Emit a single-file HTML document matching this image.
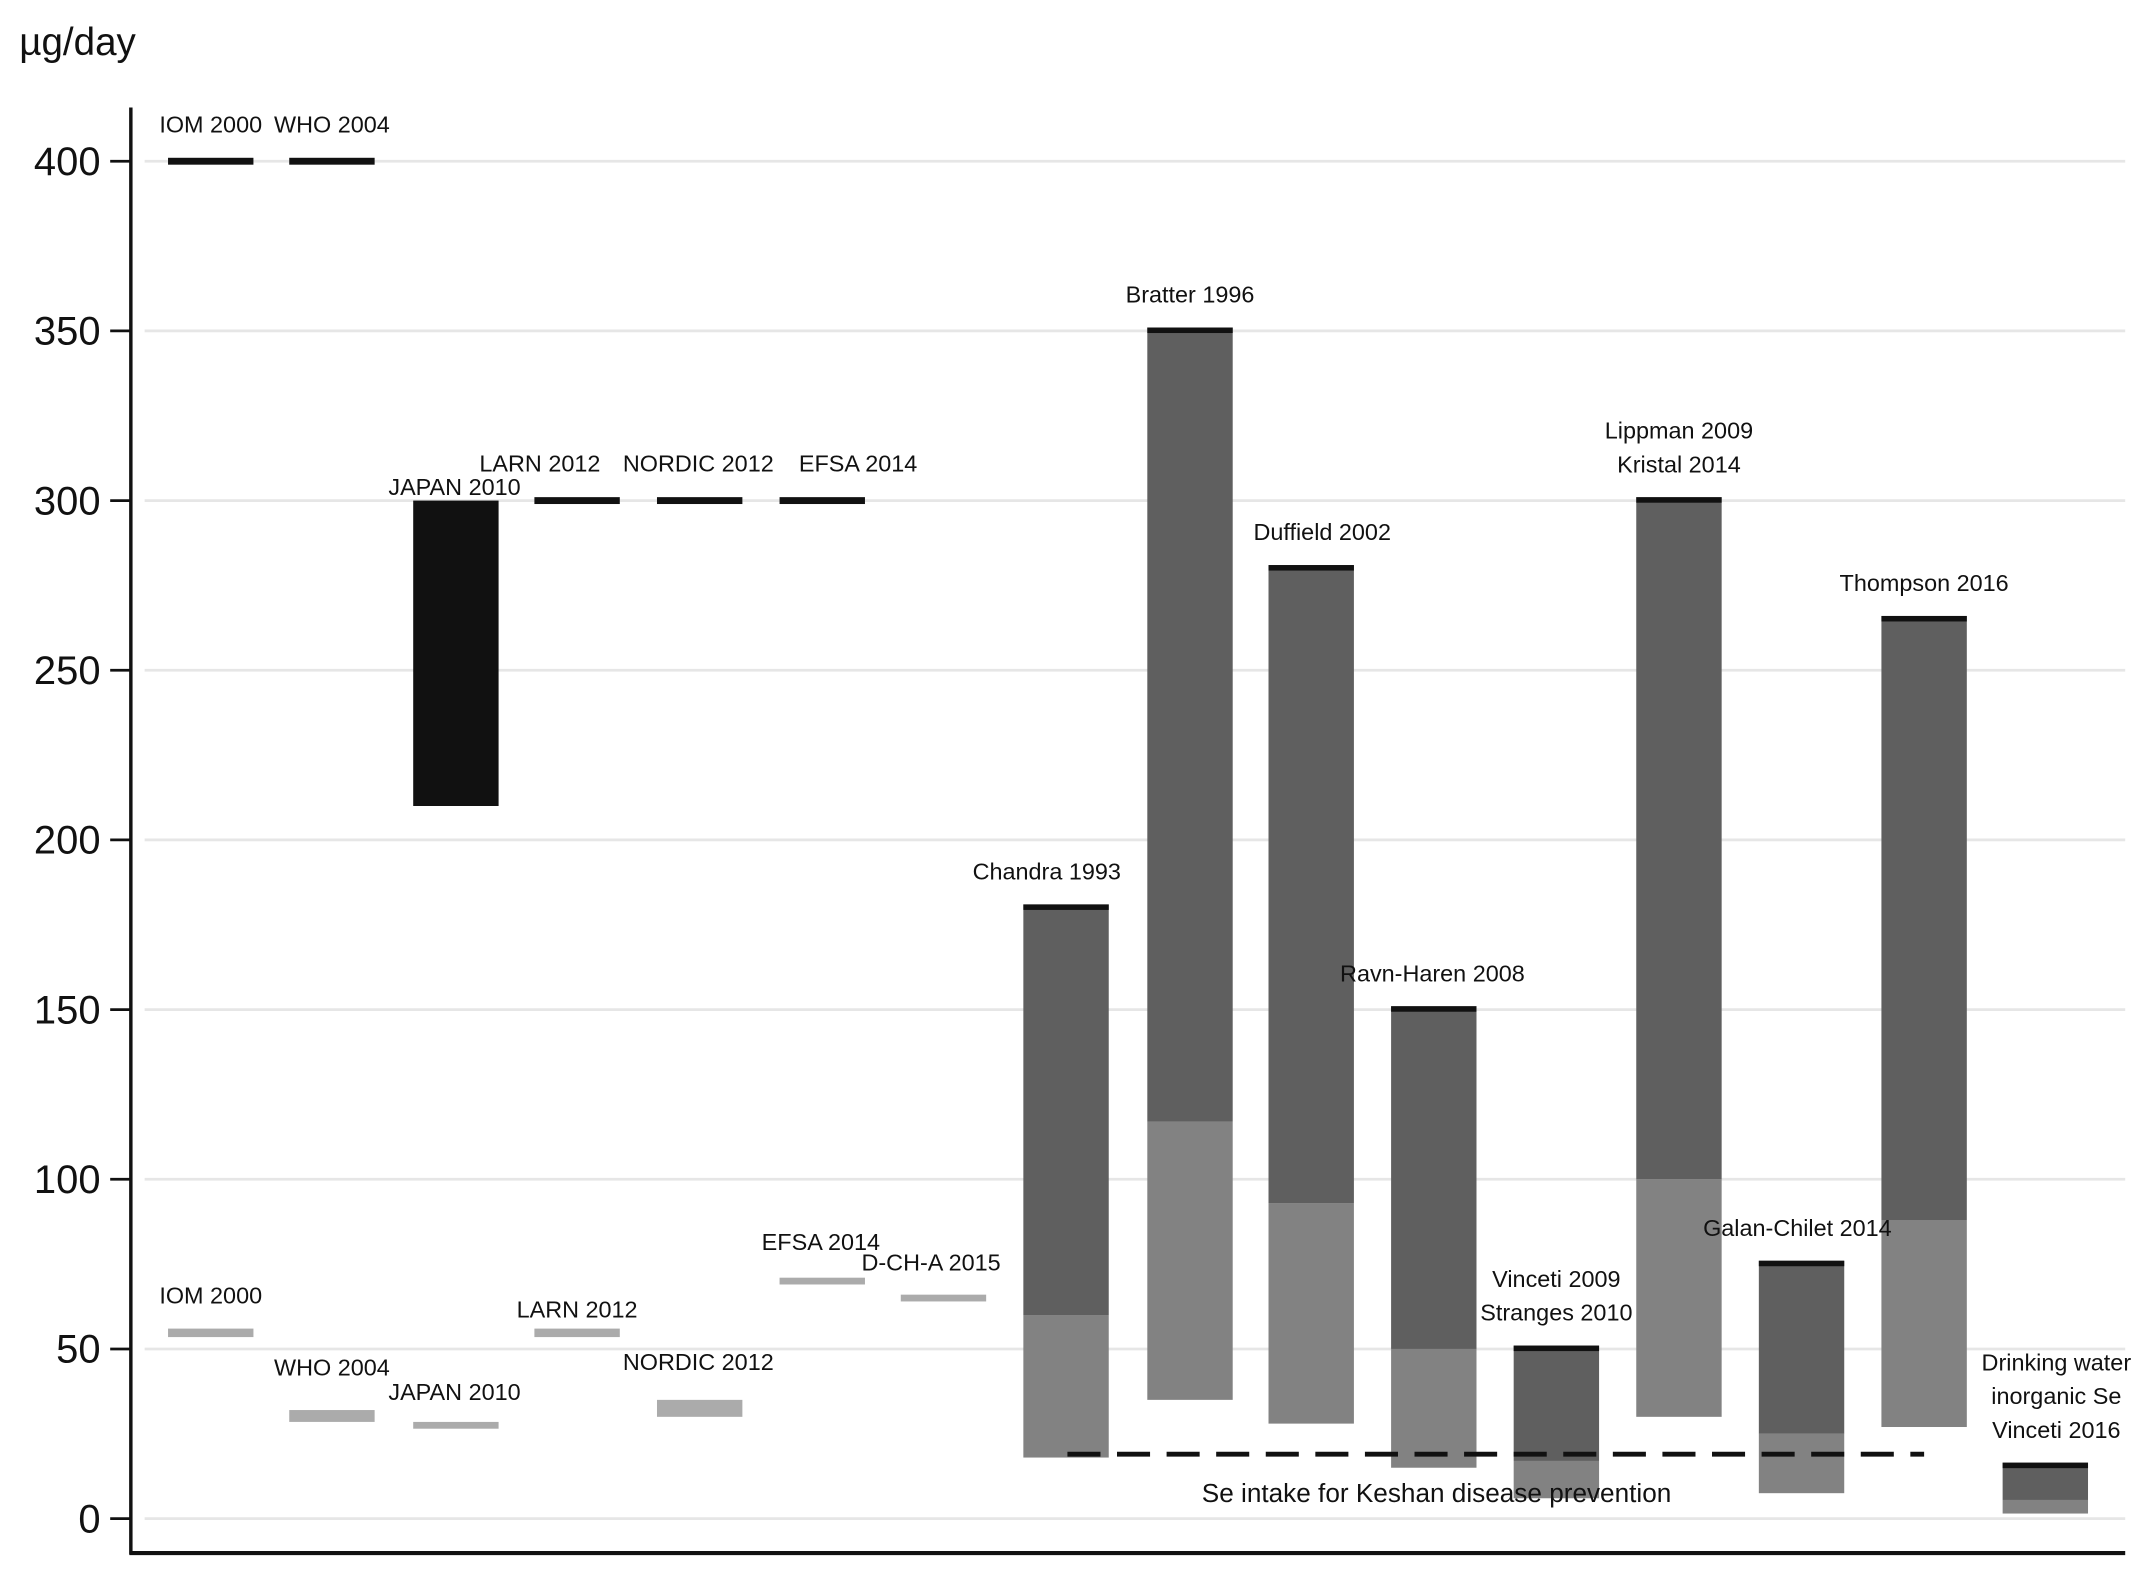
<!DOCTYPE html>
<html><head><meta charset="utf-8"><style>
html,body{margin:0;padding:0;background:#fff}
svg{display:block}
text{font-family:"Liberation Sans",sans-serif;fill:#111}
</style></head><body>
<svg id="chart" width="2150" height="1571" viewBox="0 0 1561 1140" preserveAspectRatio="none" xmlns="http://www.w3.org/2000/svg">
<g id="grid"></g>
<g id="marks"></g>
<g id="labels"></g>
<g id="axes"></g>
</svg>
<script>
const yTicks=[0,50,100,150,200,250,300,350,400];
const refNames=["IOM 2000","WHO 2004","LARN 2012","NORDIC 2012","EFSA 2014"];
const refValues=[400,400,300,300,300];
const refX=[122,210,388,477,566];
const japanRange=[210,300];
const lowNames=["IOM 2000","WHO 2004","JAPAN 2010","LARN 2012","NORDIC 2012","EFSA 2014","D-CH-A 2015"];
const lowLo=[53.5,28.5,26.5,53.5,30,69,64];
const lowHi=[56,32,28.5,56,35,71,66];
const lowX=[122,210,300,388,477,566,654];
const studyNames=[["Chandra 1993"],["Bratter 1996"],["Duffield 2002"],["Ravn-Haren 2008"],["Vinceti 2009","Stranges 2010"],["Lippman 2009","Kristal 2014"],["Galan-Chilet 2014"],["Thompson 2016"],["Drinking water","inorganic Se","Vinceti 2016"]];
const studyLow=[18,35,28,15,6,30,7.5,27,1.5];
const studyMid=[60,117,93,50,17,100,25,88,5.5];
const studyHigh=[181,351,281,151,51,301,76,266,16.5];
const studyX=[743,833,921,1010,1099,1188,1277,1366,1454];
const keshanValue=19;

const NS="http://www.w3.org/2000/svg";
const Y0=1102, PER=(1102-117)/400, BW=62;
const y=v=>Y0-v*PER;
function el(tag,attrs,parent,txt){const e=document.createElementNS(NS,tag);for(const k in attrs)e.setAttribute(k,attrs[k]);if(txt!=null)e.textContent=txt;parent.appendChild(e);return e;}
const grid=document.getElementById('grid'),marks=document.getElementById('marks'),labels=document.getElementById('labels'),axes=document.getElementById('axes');

yTicks.forEach(t=>{
  const g=el('line',{x1:105,x2:1543,y1:y(t),y2:y(t),stroke:'#e6e6e6','stroke-width':2},grid);
  
  
  const tk=el('line',{x1:80,x2:95,y1:y(t),y2:y(t),stroke:'#111','stroke-width':2},axes);
  
  
  const tl=el('text',{x:73,y:y(t)+10,'text-anchor':'end','font-size':29},axes,String(t));
  
  
});
const ya=el('line',{x1:95,x2:95,y1:78,y2:1128,stroke:'#111','stroke-width':2.5},axes);


const xa=el('line',{x1:94,x2:1543,y1:1127,y2:1127,stroke:'#111','stroke-width':3},axes);


const yt=el('text',{x:14,y:40,'font-size':28},axes,'µg/day');



refNames.forEach((n,i)=>{
  const r=el('rect',{x:refX[i],y:y(refValues[i])-2.5,width:BW,height:5,fill:'#111'},marks);
  
  
  const cx=i<2?refX[i]+31:(i===2?refX[i]+4:(i===3?refX[i]+30:refX[i]+57));
  const t=el('text',{x:cx,y:y(refValues[i])-21,'text-anchor':'middle','font-size':17},labels,n);
  
  
});
const jp=el('rect',{x:300,y:y(japanRange[1]),width:BW,height:y(japanRange[0])-y(japanRange[1]),fill:'#111'},marks);


const jpl=el('text',{x:330,y:y(japanRange[1])-4,'text-anchor':'middle','font-size':17},labels,'JAPAN 2010');



const lowDx=[31,31,30,31,30,30,22];
lowNames.forEach((n,i)=>{
  const r=el('rect',{x:lowX[i],y:y(lowHi[i]),width:BW,height:Math.max(3,y(lowLo[i])-y(lowHi[i])),fill:'#ababab'},marks);
  
  
});
const lowLabelY=[940,992,1010,950,988,901,916];
lowNames.forEach((n,i)=>{
  const t=el('text',{x:lowX[i]+lowDx[i],y:lowLabelY[i]+6,'text-anchor':'middle','font-size':17},labels,n);
  
  
});

studyNames.forEach((n,i)=>{
  const x=studyX[i];
  const lo=el('rect',{x:x,y:y(studyMid[i]),width:BW,height:y(studyLow[i])-y(studyMid[i]),fill:'#828282'},marks);
  
  
  const hi=el('rect',{x:x,y:y(studyHigh[i]),width:BW,height:y(studyMid[i])-y(studyHigh[i]),fill:'#5f5f5f'},marks);
  
  
  const cap=el('rect',{x:x,y:y(studyHigh[i]),width:BW,height:4,fill:'#111'},marks);
  
  
  const cx=i===8?1493:x+31+(i===0?-14:i===2?8:i===3?-1:i===6?-3:0);
  n.forEach((line,j)=>{
    const ty=y(studyHigh[i])-18-(n.length-1-j)*24.5;
    const t=el('text',{x:cx,y:ty,'text-anchor':'middle','font-size':17},labels,line);
    
    
  });
});

const dl=el('line',{x1:775,x2:1397,y1:y(keshanValue),y2:y(keshanValue),stroke:'#111','stroke-width':3.5,'stroke-dasharray':'24 12'},marks);


const kl=el('text',{x:1043,y:1090,'text-anchor':'middle','font-size':19},labels,'Se intake for Keshan disease prevention');


</script>
</body></html>
